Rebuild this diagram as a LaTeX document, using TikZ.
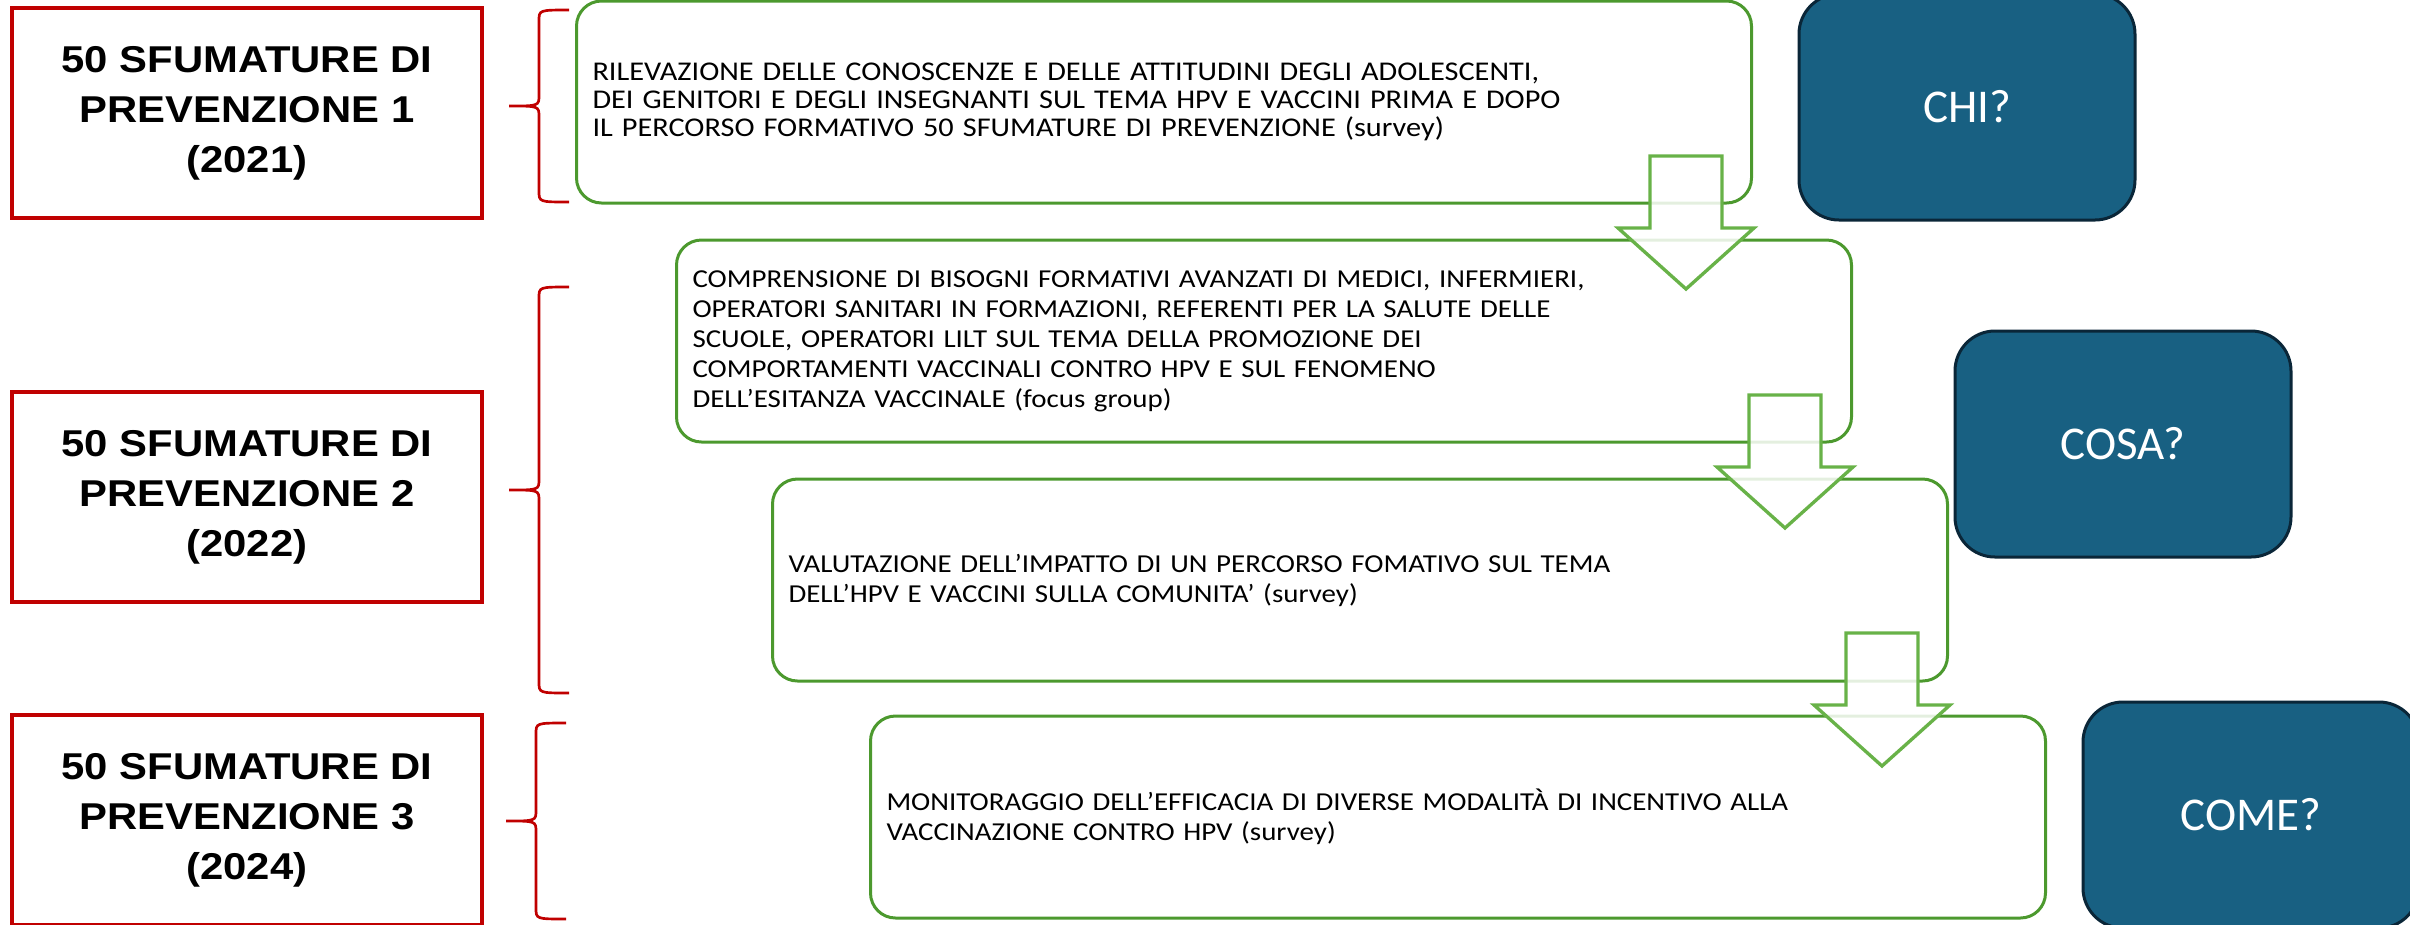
\documentclass[tikz,border=0pt]{standalone}
\usepackage{fontspec}
\newfontfamily\stagefont[FakeStretch=1.12]{Liberation Sans}
\newfontfamily\stepfont[FakeStretch=1.12]{Carlito}
\newfontfamily\askfont{Carlito}
\usepackage{tikz}
\definecolor{stagered}{RGB}{192,0,0}
\definecolor{stepgreen}{RGB}{76,153,46}
\definecolor{arrowgreen}{RGB}{104,178,72}
\definecolor{askblue}{RGB}{24,96,130}
\definecolor{askedge}{RGB}{10,38,56}
\tikzset{
  stage/.style={
    draw=stagered,line width=1pt,
    minimum width=141pt,minimum height=63pt,align=center,
    font=\stagefont\bfseries\fontsize{11.2}{15}\selectfont,
    execute at begin node={\rule{0pt}{13pt}}
  },
  stepbox/.style={draw=stepgreen,line width=0.9pt,rounded corners=7.5pt,
    text width=342.9pt,inner xsep=4.8pt,minimum height=60.6pt,align=left,
    font=\stepfont\fontsize{7.75}{9}\selectfont},
  ask/.style={draw=askedge,line width=0.9pt,fill=askblue,rounded corners=12pt,
    minimum width=100.8pt,minimum height=67.8pt,text=white,
    font=\askfont\fontsize{14.1}{16}\selectfont},
  brc/.style={draw=stagered,line width=0.8pt},
  blockarrow/.style={draw=arrowgreen,line width=1pt,fill=white,fill opacity=0.85,line join=miter}
}

\begin{document}
\begin{tikzpicture}[x=0.3pt,y=-0.3pt]
  \useasboundingbox (0,0) rectangle (2410,924);

  % the three editions
  \node[stage] (stage1) at (247,113) {50 SFUMATURE DI\\PREVENZIONE 1\\(2021)};
  \node[stage] (stage2) at (247,497) {50 SFUMATURE DI\\PREVENZIONE 2\\(2022)};
  \node[stage] (stage3) at (247,820) {50 SFUMATURE DI\\PREVENZIONE 3\\(2024)};

  % braces: top/bottom/end
  \foreach \t/\b/\e in {10/202/569, 287/693/569, 723/919/566}{
    \pgfmathsetmacro\m{(\t+\b)/2}
    \draw[brc] (\e,\t) .. controls (\e-30,\t) .. (\e-30,\t+11) -- (\e-30,\m-11)
      .. controls (\e-30,\m) .. (\e-60,\m) .. controls (\e-30,\m) .. (\e-30,\m+11)
      -- (\e-30,\b-11) .. controls (\e-30,\b) .. (\e,\b);
  }

  % steps
  \node[stepbox,font=\stepfont\fontsize{8.12}{8.3}\selectfont] (step1) at (1164,102) {RILEVAZIONE DELLE CONOSCENZE E DELLE ATTITUDINI DEGLI ADOLESCENTI,\\DEI GENITORI E DEGLI INSEGNANTI SUL TEMA HPV E VACCINI PRIMA E DOPO\\IL PERCORSO FORMATIVO 50 SFUMATURE DI PREVENZIONE (survey)};
  \node[stepbox] (step2) at (1264,341) {COMPRENSIONE DI BISOGNI FORMATIVI AVANZATI DI MEDICI, INFERMIERI,\\OPERATORI SANITARI IN FORMAZIONI, REFERENTI PER LA SALUTE DELLE\\SCUOLE, OPERATORI LILT SUL TEMA DELLA PROMOZIONE DEI\\COMPORTAMENTI VACCINALI CONTRO HPV E SUL FENOMENO\\DELL’ESITANZA VACCINALE (focus group)};
  \node[stepbox] (step3) at (1360,580) {VALUTAZIONE DELL’IMPATTO DI UN PERCORSO FOMATIVO SUL TEMA\\DELL’HPV E VACCINI SULLA COMUNITA’ (survey)};
  \node[stepbox] (step4) at (1458,817) {MONITORAGGIO DELL’EFFICACIA DI DIVERSE MODALITÀ DI INCENTIVO ALLA\\VACCINAZIONE CONTRO HPV (survey)};

  \draw[blockarrow] (1650,156) -- ++(72,0) -- ++(0,72) -- ++(32,0) -- ++(-68,61) -- ++(-68,-61) -- ++(32,0) -- cycle;
  \draw[blockarrow] (1749,395) -- ++(72,0) -- ++(0,72) -- ++(32,0) -- ++(-68,61) -- ++(-68,-61) -- ++(32,0) -- cycle;
  \draw[blockarrow] (1846,633) -- ++(72,0) -- ++(0,72) -- ++(32,0) -- ++(-68,61) -- ++(-68,-61) -- ++(32,0) -- cycle;

  % questions
  \node[ask] (chi) at (1967,107) {CHI?};
  \node[ask] (cosa) at (2123,444) {COSA?};
  \node[ask] (come) at (2251,815) {COME?};
\end{tikzpicture}
\end{document}
